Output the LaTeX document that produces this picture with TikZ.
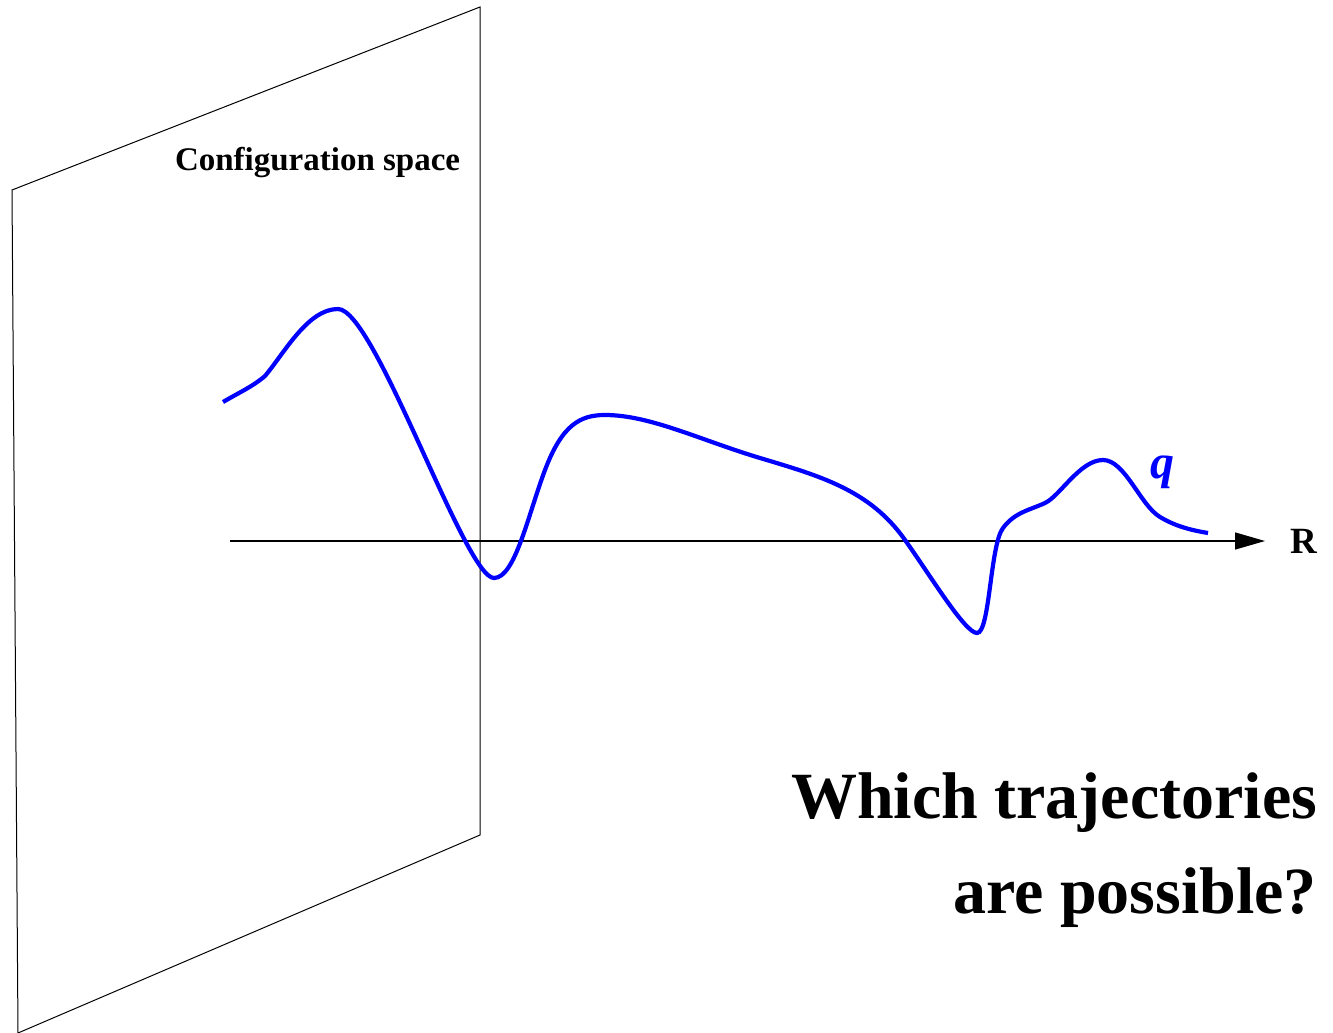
\documentclass[tikz,border=0pt]{standalone}
\usepackage{fontspec}
\setmainfont{Liberation Serif}
\usepackage{tikz}
\usetikzlibrary{
  arrows.meta,
  positioning,
  calc,
}

\begin{document}
\begin{tikzpicture}[
  x=1pt, y=-1pt,
  every node/.style={inner sep=0pt, outer sep=0pt},
  plane/.style={draw=black, line width=1pt, line join=miter},
  axis/.style={draw=black, line width=1.3pt, -{Triangle[length=30pt,width=17pt]}},
  traj/.style={draw=blue, line width=4.2pt},
  lbl/.style={font=\bfseries\fontsize{#1}{#1}\selectfont},
]
\useasboundingbox (0,0) rectangle (1333,1033);

% the plane of configurations
\coordinate (TL) at (12,190);
\coordinate (TR) at (480,7);
\coordinate (BR) at (480,835);
\coordinate (BL) at (18,1033);
\path[plane] (BL) -- (TL) -- (TR) -- (BR) -- (BL);
\node[lbl=33, anchor=base west] (conf) at (175,170) {Configuration space};

% time axis
\coordinate (ax0) at (230,541);
\coordinate (ax1) at (1265,541);
\path[axis] (ax0) -- (ax1);
\node[lbl=37, anchor=base west] (R) at (1290,553) {R};

% the trajectory
\path[traj] (223,402)
  .. controls (240,392) and (252,387) .. (265,376)
  .. controls (285,352) and (308,309) .. (338,309)
  .. controls (375,309) and (465,578) .. (494,578)
  .. controls (515,578) and (528,515) .. (545,470)
  .. controls (562,425) and (580,415) .. (605,415)
  .. controls (650,415) and (700,440) .. (760,458)
  .. controls (820,476) and (870,490) .. (905,540)
  .. controls (930,575) and (965,633) .. (977,633)
  .. controls (990,633) and (990,545) .. (1003,528)
  .. controls (1015,512) and (1030,510) .. (1045,503)
  .. controls (1060,496) and (1080,460) .. (1103,460)
  .. controls (1125,460) and (1140,505) .. (1160,517)
  .. controls (1175,526) and (1190,530) .. (1208,533);
\node[lbl=48, text=blue, anchor=base west, font=\bfseries\itshape\fontsize{48}{48}\selectfont] (q) at (1150,478) {q};

\node[lbl=66, anchor=base east, align=right,
      font=\bfseries\fontsize{66}{95}\selectfont] (ask) at (1317,913)
  {Which trajectories\\are possible?};

\end{tikzpicture}
\end{document}
